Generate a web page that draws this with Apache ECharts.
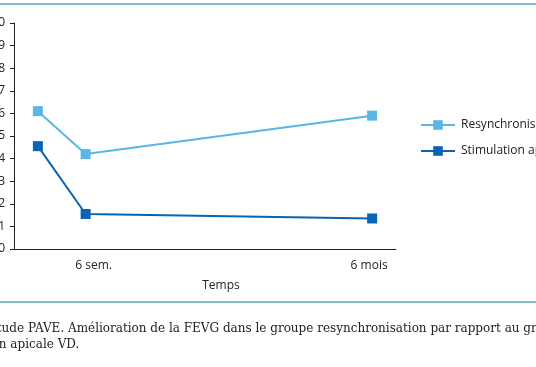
<!DOCTYPE html>
<html>
<head>
<meta charset="utf-8">
<script src="https://cdn.jsdelivr.net/npm/echarts@6/dist/echarts.min.js"></script>
<style>
html,body{margin:0;padding:0;background:#fff;}
#c{width:536px;height:367px;}
</style>
</head>
<body>
<div id="c"></div>
<script>
// Data
var categories = ['', '6 sem.', '', '', '', '', '', '6 mois'];
var pointIndex = [0, 1, 7];
var resyncValues = [6.1, 4.2, 5.9];
var stimValues = [4.55, 1.55, 1.35];
var seriesNames = ['Resynchronisation', 'Stimulation apicale VD'];
var yTicks = [0, 1, 2, 3, 4, 5, 6, 7, 8, 9, 10];
var xAxisName = 'Temps';
var captionLine1 = 'Étude PAVE. Amélioration de la FEVG dans le groupe resynchronisation par rapport au groupe';
var captionLine2 = 'stimulation apicale VD.';

function pairs(idx, vals) { return idx.map(function (x, i) { return [x, vals[i]]; }); }

var sans = '"Open Sans", sans-serif';
var chart = echarts.init(document.getElementById('c'), null, { renderer: 'canvas' });
chart.setOption({
  animation: false,
  backgroundColor: '#ffffff',
  grid: { left: 14, right: 140, top: 23, bottom: 118, containLabel: false, outerBoundsMode: 'none' },
  xAxis: {
    type: 'category',
    data: categories,
    boundaryGap: true,
    name: xAxisName,
    nameLocation: 'middle',
    nameGap: 31,
    nameTextStyle: { fontFamily: sans, fontSize: 12, color: '#222', padding: [0, 0, 0, 32] },
    axisLine: { lineStyle: { color: '#222', width: 1 } },
    axisTick: { show: false },
    axisLabel: {
      interval: 0, margin: 11, fontFamily: sans, fontSize: 12, color: '#222',
      formatter: function (v) { return v === '6 sem.' ? '{s|' + v + '}' : '{m|' + v + '}'; },
      rich: {
        s: { fontFamily: sans, fontSize: 12, color: '#222', padding: [0, 0, 0, 16] },
        m: { fontFamily: sans, fontSize: 12, color: '#222', padding: [0, 0, 0, -6] }
      }
    },
    splitLine: { show: false }
  },
  yAxis: {
    type: 'value',
    min: yTicks[0],
    max: yTicks[yTicks.length - 1],
    interval: 1,
    axisLine: { show: true, lineStyle: { color: '#222', width: 1 } },
    axisTick: { show: true, length: 4, lineStyle: { color: '#222' } },
    axisLabel: { margin: 9, fontFamily: sans, fontSize: 12, color: '#222' },
    splitLine: { show: false }
  },
  legend: {
    orient: 'vertical',
    left: 420,
    top: 119,
    padding: 0,
    itemWidth: 34,
    itemHeight: 12,
    itemGap: 14,
    textStyle: { fontFamily: sans, fontSize: 12, color: '#222', padding: [0, 0, 0, 1] },
    data: seriesNames
  },
  series: [
    {
      name: seriesNames[0], type: 'line', data: pairs(pointIndex, resyncValues),
      symbol: 'rect', symbolSize: 10,
      lineStyle: { color: '#5bb6e6', width: 2 },
      itemStyle: { color: '#5bb6e6' }
    },
    {
      name: seriesNames[1], type: 'line', data: pairs(pointIndex, stimValues),
      symbol: 'rect', symbolSize: 10,
      lineStyle: { color: '#0a63b3', width: 2 },
      itemStyle: { color: '#0a63b3' }
    }
  ],
  graphic: [
    { type: 'rect', shape: { x: 0, y: 3, width: 536, height: 2 }, style: { fill: '#7fbfcf' } },
    { type: 'rect', shape: { x: 0, y: 301, width: 536, height: 2 }, style: { fill: '#7fbfcf' } },
    { type: 'text', x: -12, y: 323, style: { text: captionLine1, font: '12px "DejaVu Serif", serif', fill: '#222' } },
    { type: 'text', x: -62, y: 339, style: { text: captionLine2, font: '12px "DejaVu Serif", serif', fill: '#222' } }
  ]
});
</script>
</body>
</html>
